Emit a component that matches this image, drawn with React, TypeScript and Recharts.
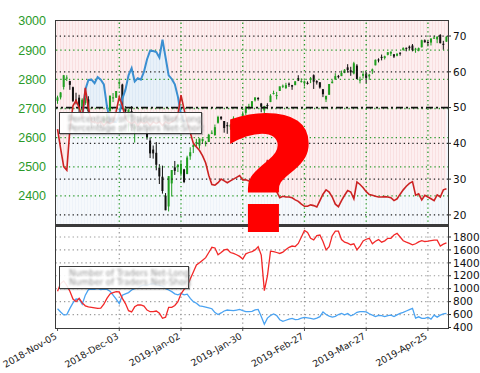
import React from "react";
import { ComposedChart, Bar, Line, Area, XAxis, YAxis, ReferenceLine, ReferenceArea } from "recharts";

// x-axis ticks (every 20 sessions)
const tickIdx = [0, 20, 40, 60, 80, 100, 120];
const tickLabels = ["2018-Nov-05", "2018-Dec-03", "2019-Jan-02", "2019-Jan-30", "2019-Feb-27", "2019-Mar-27", "2019-Apr-25"];

const priceTicks = [2400, 2500, 2600, 2700, 2800, 2900, 3000];
const pctTicks = [20, 30, 40, 50, 60, 70];
const countTicks = [400, 600, 800, 1000, 1200, 1400, 1600, 1800];

const open = [
  2726, 2738, 2774, 2806, 2794, 2773, 2730, 2737, 2694, 2718,
  2731, 2654, 2657, 2649, 2645, 2650, 2663, 2692, 2737, 2737,
  2790, 2782, 2700, 2663, 2691, 2630, 2664, 2658, 2658, 2629,
  2590, 2559, 2548, 2497, 2466, 2401, 2364, 2443, 2498, 2499,
  2477, 2491, 2475, 2536, 2568, 2580, 2573, 2588, 2580, 2585,
  2614, 2609, 2651, 2671, 2657, 2643, 2638, 2657, 2644, 2644,
  2654, 2685, 2702, 2706, 2728, 2736, 2717, 2693, 2712, 2722,
  2750, 2743, 2760, 2776, 2770, 2785, 2780, 2780, 2804, 2792,
  2787, 2788, 2798, 2814, 2794, 2790, 2766, 2731, 2747, 2787,
  2799, 2811, 2811, 2822, 2841, 2831, 2820, 2847, 2797, 2812,
  2820, 2810, 2828, 2848, 2868, 2877, 2873, 2884, 2888, 2886,
  2881, 2891, 2901, 2908, 2912, 2916, 2904, 2898, 2910, 2934,
  2928, 2926, 2940, 2937, 2952, 2922, 2929,
];
const high = [
  2744, 2756, 2815, 2814, 2795, 2775, 2754, 2747, 2735, 2746,
  2742, 2670, 2670, 2655, 2653, 2675, 2685, 2744, 2753, 2760,
  2800, 2785, 2708, 2697, 2708, 2647, 2674, 2685, 2670, 2635,
  2601, 2573, 2585, 2509, 2504, 2410, 2468, 2489, 2520, 2509,
  2520, 2493, 2538, 2567, 2579, 2596, 2597, 2597, 2589, 2613,
  2625, 2645, 2675, 2674, 2657, 2653, 2647, 2673, 2644, 2650,
  2690, 2708, 2716, 2725, 2738, 2739, 2719, 2709, 2718, 2749,
  2761, 2757, 2775, 2782, 2788, 2789, 2781, 2794, 2814, 2803,
  2796, 2793, 2808, 2817, 2797, 2790, 2767, 2744, 2784, 2798,
  2821, 2815, 2830, 2835, 2852, 2843, 2860, 2852, 2809, 2829,
  2825, 2819, 2837, 2868, 2872, 2885, 2881, 2893, 2895, 2886,
  2889, 2893, 2910, 2909, 2916, 2921, 2908, 2909, 2936, 2937,
  2933, 2940, 2950, 2948, 2955, 2932, 2948,
];
const low = [
  2716, 2731, 2765, 2794, 2764, 2722, 2714, 2685, 2670, 2712,
  2681, 2632, 2649, 2640, 2631, 2649, 2655, 2684, 2722, 2736,
  2774, 2697, 2680, 2621, 2623, 2583, 2621, 2650, 2637, 2593,
  2530, 2528, 2488, 2441, 2408, 2351, 2347, 2398, 2472, 2482,
  2467, 2444, 2475, 2524, 2547, 2569, 2562, 2581, 2570, 2585,
  2612, 2606, 2648, 2660, 2617, 2613, 2627, 2657, 2624, 2631,
  2648, 2678, 2696, 2701, 2724, 2727, 2687, 2682, 2703, 2722,
  2748, 2731, 2760, 2770, 2767, 2774, 2764, 2780, 2794, 2789,
  2775, 2782, 2787, 2767, 2782, 2768, 2739, 2722, 2747, 2786,
  2799, 2803, 2811, 2821, 2823, 2812, 2817, 2800, 2786, 2803,
  2787, 2798, 2818, 2848, 2858, 2865, 2868, 2882, 2880, 2873,
  2879, 2881, 2898, 2896, 2900, 2896, 2891, 2896, 2909, 2926,
  2913, 2916, 2939, 2924, 2923, 2901, 2929,
];
const close = [
  2738, 2755, 2814, 2806, 2781, 2726, 2722, 2702, 2730, 2736,
  2690, 2641, 2649, 2645, 2633, 2674, 2682, 2744, 2738, 2760,
  2790, 2700, 2690, 2696, 2633, 2638, 2636, 2651, 2650, 2600,
  2546, 2546, 2507, 2467, 2417, 2351, 2468, 2489, 2486, 2507,
  2510, 2448, 2532, 2550, 2574, 2585, 2597, 2596, 2583, 2610,
  2617, 2636, 2671, 2665, 2633, 2639, 2642, 2665, 2644, 2641,
  2681, 2704, 2707, 2725, 2738, 2732, 2706, 2708, 2709, 2744,
  2753, 2746, 2776, 2778, 2780, 2784, 2775, 2793, 2796, 2794,
  2793, 2784, 2804, 2792, 2789, 2772, 2749, 2743, 2784, 2792,
  2811, 2808, 2822, 2833, 2832, 2824, 2855, 2801, 2799, 2818,
  2805, 2816, 2834, 2867, 2867, 2873, 2879, 2893, 2895, 2878,
  2888, 2888, 2907, 2905, 2907, 2900, 2905, 2907, 2934, 2927,
  2926, 2940, 2943, 2946, 2924, 2918, 2946,
];

// percentage of traders net-short / net-long (right axis, top panel)
const pctShort = [
  44, 38.5, 33.5, 32.5, 44, 50.5, 52, 50, 47, 55.5,
  50, 46, 46, 45.5, 46, 45, 46, 45.5, 46, 49,
  53, 50.5, 47, 46, 45.5, 46, 45, 46, 45.5, 46,
  45, 46, 45.5, 46, 45, 46, 45.5, 46, 46.5, 48,
  53.5, 49.5, 46, 43, 40, 39, 38, 36.5, 34.5, 31,
  28.5, 28.3, 29, 30, 29.5, 29, 29.5, 30, 30.5, 31,
  29.8, 29.8, 29.5, 29.2, 30, 30.6, 30.8, 31, 35.4, 30,
  27.8, 26.5, 24.8, 25.2, 25, 25, 24.8, 24.2, 23.8, 23,
  22.4, 22.4, 22.8, 22.6, 22.2, 24, 25.8, 27, 26.4, 25,
  23, 22.3, 24, 25.5, 26.8, 26.4, 24.5, 29.2, 28.5, 27.6,
  26.5, 25.7, 25.5, 25.2, 25, 25, 25.1, 25, 24.8, 24,
  24.5, 25.8, 27, 28, 28.8, 29.3, 25.5, 25.9, 24.2, 25.5,
  25, 24.5, 24, 25.6, 25, 27, 27.3,
];
const pctLong = [
  null, null, null, null, null, null, null, null, 47, 55,
  57.7, 57.8, 56.8, 58.5, 57.8, 56.5, 50.5, 46, 46, 46,
  48, 52.5, 55, 59, 61, 57.3, 58.2, 57.8, 60, 63.5,
  65.9, 65.8, 65.5, 64, 69, 64, 59, 58, 56.5, 53,
  48, 46, null, null, null, null, null, null, null, null,
  null, null, null, null, null, null, null, null, null, null,
  null, null, null, null, null, null, null, null, null, null,
  null, null, null, null, null, null, null, null, null, null,
  null, null, null, null, null, null, null, null, null, null,
  null, null, null, null, null, null, null, null, null, null,
  null, null, null, null, null, null, null, null, null, null,
  null, null, null, null, null, null, null, null, null, null,
  null, null, null, null, null, null, null,
];

// number of traders (bottom panel)
const numLong = [
  690, 640, 595, 600, 695, 780, 840, 835, 760, 900,
  985, 995, 990, 1000, 985, 995, 990, 960, 900, 840,
  770, 900, 920, 940, 980, 1000, 1010, 1040, 1060, 1050,
  1070, 1080, 1060, 1050, 1040, 1000, 980, 955, 920, 905,
  928, 905, 915, 850, 800, 775, 735, 725, 715, 705,
  690, 630, 600, 625, 655, 670, 665, 660, 670, 680,
  660, 645, 645, 650, 671, 680, 570, 450, 545, 585,
  610, 585, 520, 495, 512, 530, 540, 522, 525, 545,
  556, 550, 540, 530, 545, 567, 640, 600, 575, 560,
  572, 600, 617, 595, 615, 580, 600, 635, 645, 645,
  640, 612, 590, 570, 588, 585, 568, 583, 590, 570,
  595, 620, 635, 655, 675, 695, 545, 565, 540, 540,
  560, 530, 590, 560, 590, 610, 620,
];
const numShort = [
  960, 1080, 1120, 1050, 960, 840, 800, 850, 780, 735,
  720, 712, 705, 695, 700, 760, 850, 918, 940, 955,
  950, 850, 770, 660, 640, 720, 748, 748, 732, 670,
  644, 644, 655, 620, 542, 560, 712, 712, 740, 800,
  920, 990, 1040, 1150, 1260, 1367, 1400, 1440, 1480, 1560,
  1640, 1630, 1525, 1560, 1600, 1610, 1560, 1545, 1525, 1500,
  1460, 1540, 1560, 1575, 1600, 1650, 1520, 970, 1200, 1580,
  1575, 1560, 1545, 1565, 1605, 1640, 1660, 1652, 1700, 1800,
  1900, 1870, 1780, 1756, 1820, 1830, 1730, 1600, 1650, 1820,
  1890, 1890, 1760, 1720, 1705, 1680, 1695, 1600, 1660, 1740,
  1765, 1780, 1695, 1735, 1760, 1720, 1740, 1780, 1780, 1830,
  1855, 1800, 1742, 1720, 1700, 1678, 1695, 1725, 1743, 1730,
  1735, 1743, 1750, 1752, 1660, 1690, 1710,
];

const rows = close.map((c, i) => ({
  i,
  open: open[i],
  high: high[i],
  low: low[i],
  close: c,
  pctShort: pctShort[i],
  pctLong: pctLong[i],
  numLong: numLong[i],
  numShort: numShort[i],
}));

const X_DOMAIN: [number, number] = [-0.5, 126.5];
const PRICE_DOMAIN: [number, number] = [2297, 3000];
const PCT_DOMAIN: [number, number] = [16.9, 74.2];
const COUNT_DOMAIN: [number, number] = [392, 1970];

const GREEN = "#2a9a2a";
const FONT = "DejaVu Sans, sans-serif";

const Candle = (props: any) => {
  const { x, y, width, height, payload } = props;
  if (!payload || y == null || height == null) return null;
  const top = Math.min(y, y + height);
  const bot = Math.max(y, y + height);
  const span = payload.high - payload.low || 1;
  const k = (bot - top) / span;
  const yo = top + (payload.high - payload.open) * k;
  const yc = top + (payload.high - payload.close) * k;
  const up = payload.close >= payload.open;
  const color = up ? "#1f9e1f" : "#111111";
  const cx = x + width / 2;
  return (
    <g>
      <line x1={cx} x2={cx} y1={top} y2={bot} stroke={color} strokeWidth={1} />
      <rect x={cx - 1} y={Math.min(yo, yc)} width={2} height={Math.max(1, Math.abs(yc - yo))} fill={color} />
    </g>
  );
};

const DateTick = ({ x, y, payload }: any) => {
  const label = tickLabels[tickIdx.indexOf(payload.value)] ?? "";
  return (
    <text
      x={x}
      y={y + 5}
      transform={`rotate(-30, ${x}, ${y + 5})`}
      textAnchor="end"
      fontSize={9.3}
      fill="#222"
      fontFamily={FONT}
    >
      {label}
    </text>
  );
};

const blurText: React.CSSProperties = {
  filter: "blur(1.1px)",
  color: "#999",
  fontSize: 8.5,
  fontFamily: FONT,
  whiteSpace: "nowrap",
  lineHeight: "10px",
};

const legendBox: React.CSSProperties = {
  position: "absolute",
  background: "rgba(255,255,255,0.9)",
  border: "1.5px solid #3c3c3c",
  boxShadow: "1px 1px 1px rgba(0,0,0,0.25)",
  boxSizing: "border-box",
  padding: "1px 3px",
};

export default function App() {
  return (
    <div style={{ position: "absolute", left: 0, top: 0, width: 480, height: 373, background: "#fff", overflow: "hidden" }}>
      <svg width={0} height={0} style={{ position: "absolute" }}>
        <defs>
          <pattern id="pinkStripe" patternUnits="userSpaceOnUse" width={3} height={10}>
            <rect width={3} height={10} fill="#fdeff0" />
            <rect width={1} height={10} fill="#f9e0e1" />
          </pattern>
          <pattern id="paleStripe" patternUnits="userSpaceOnUse" width={3} height={10}>
            <rect width={3} height={10} fill="#f6f9fc" />
            <rect width={1} height={10} fill="#eef3f9" />
          </pattern>
          <pattern id="blueStripe" patternUnits="userSpaceOnUse" width={3} height={10}>
            <rect width={3} height={10} fill="#e8f1f9" />
            <rect width={1} height={10} fill="#dde9f5" />
          </pattern>
        </defs>
      </svg>

      {/* top panel: price candles + sentiment percentages */}
      <div style={{ position: "absolute", left: 0, top: 0 }}>
        <ComposedChart width={480} height={226} data={rows} margin={{ top: 21, right: 0, bottom: 0, left: 0 }}>
          <XAxis dataKey="i" type="number" domain={X_DOMAIN} ticks={tickIdx} allowDataOverflow hide />
          <YAxis
            yAxisId="price"
            orientation="left"
            width={56}
            domain={PRICE_DOMAIN}
            ticks={priceTicks}
            interval={0}
            allowDataOverflow
            axisLine={false}
            tickLine={false}
            tickMargin={4}
            tick={{ fill: GREEN, fontSize: 12.5, fontFamily: "Liberation Sans, sans-serif" }}
          />
          <YAxis
            yAxisId="pct"
            orientation="right"
            width={32}
            domain={PCT_DOMAIN}
            ticks={pctTicks}
            interval={0}
            allowDataOverflow
            axisLine={false}
            tickLine={{ stroke: "#222" }}
            tickSize={3}
            tickMargin={2}
            tick={{ fill: "#111", fontSize: 10.5, fontFamily: FONT }}
          />
          <ReferenceArea yAxisId="pct" y1={50} y2={PCT_DOMAIN[1]} fill="url(#pinkStripe)" fillOpacity={1} stroke="none" ifOverflow="hidden" />
          <ReferenceArea yAxisId="pct" y1={PCT_DOMAIN[0]} y2={50} fill="url(#paleStripe)" fillOpacity={1} stroke="none" ifOverflow="hidden" />
          <Area yAxisId="pct" dataKey="pctLong" baseValue={50} stroke="none" fill="url(#blueStripe)" fillOpacity={1} isAnimationActive={false} />
          <Area yAxisId="pct" dataKey="pctShort" baseValue={50} stroke="none" fill="url(#pinkStripe)" fillOpacity={1} isAnimationActive={false} />
          {pctTicks.filter((t) => t !== 50).map((t) => (
            <ReferenceLine key={`p${t}`} yAxisId="pct" y={t} stroke="#222" strokeWidth={1.3} strokeDasharray="1.3 3" />
          ))}
          {priceTicks.filter((t) => t !== 3000).map((t) => (
            <ReferenceLine key={`g${t}`} yAxisId="price" y={t} stroke={GREEN} strokeWidth={1.3} strokeDasharray="1.3 3" />
          ))}
          {tickIdx.slice(1).map((t) => (
            <ReferenceLine key={`v${t}`} yAxisId="price" x={t} stroke={GREEN} strokeWidth={1.3} strokeDasharray="1.3 3" />
          ))}
          <Bar yAxisId="price" dataKey={(d: any) => [d.low, d.high]} barSize={3} shape={<Candle />} isAnimationActive={false} />
          <ReferenceLine yAxisId="pct" y={50} stroke="#111" strokeWidth={1.6} strokeDasharray="7 3 2 3" />
          <Line yAxisId="pct" dataKey="pctLong" stroke="#3b8fd1" strokeWidth={2} dot={false} isAnimationActive={false} />
          <Line yAxisId="pct" dataKey="pctShort" stroke="#cc2222" strokeWidth={1.6} dot={false} isAnimationActive={false} />
        </ComposedChart>
      </div>

      {/* bottom panel: number of traders */}
      <div style={{ position: "absolute", left: 0, top: 226 }}>
        <ComposedChart width={480} height={147} data={rows} margin={{ top: 0, right: 0, bottom: 0, left: 0 }}>
          <XAxis
            dataKey="i"
            type="number"
            domain={X_DOMAIN}
            ticks={tickIdx}
            allowDataOverflow
            height={45}
            axisLine={false}
            tickLine={{ stroke: "#555" }}
            tickSize={3}
            tick={<DateTick />}
            interval={0}
          />
          <YAxis yAxisId="left" orientation="left" width={56} domain={COUNT_DOMAIN} tick={false} axisLine={false} tickLine={false} />
          <YAxis
            yAxisId="n"
            orientation="right"
            width={32}
            domain={COUNT_DOMAIN}
            ticks={countTicks}
            interval={0}
            allowDataOverflow
            axisLine={false}
            tickLine={{ stroke: "#222" }}
            tickSize={3}
            tickMargin={2}
            tick={{ fill: "#111", fontSize: 10.5, fontFamily: FONT }}
          />
          {countTicks.filter((t) => t > 400).map((t) => (
            <ReferenceLine key={`c${t}`} yAxisId="n" y={t} stroke="#9a9a9a" strokeWidth={1.2} strokeDasharray="1.3 3" />
          ))}
          {tickIdx.slice(1).map((t) => (
            <ReferenceLine key={`cv${t}`} yAxisId="n" x={t} stroke="#9a9a9a" strokeWidth={1.2} strokeDasharray="1.3 3" />
          ))}
          <Line yAxisId="n" dataKey="numLong" stroke="#4aa3f2" strokeWidth={1.3} dot={false} isAnimationActive={false} />
          <Line yAxisId="n" dataKey="numShort" stroke="#f22828" strokeWidth={1.3} dot={false} isAnimationActive={false} />
        </ComposedChart>
      </div>

      {/* panel frames */}
      <div style={{ position: "absolute", left: 55, top: 20, width: 394, height: 207, border: "1.5px solid #3a3a3a", borderBottomWidth: 3, boxSizing: "border-box", pointerEvents: "none" }} />
      <div style={{ position: "absolute", left: 55, top: 225, width: 394, height: 104, border: "1.5px solid #3a3a3a", borderTop: "none", boxSizing: "border-box", pointerEvents: "none" }} />

      {/* legends */}
      <div style={{ ...legendBox, left: 59, top: 112, width: 143, height: 22 }}>
        <div style={{ display: "flex", alignItems: "center", height: 9 }}>
          <span style={{ display: "inline-block", width: 14, height: 7, background: "#cfe2f6", marginRight: 5 }} />
          <span style={blurText}>Percentage of Traders Net-Long</span>
        </div>
        <div style={{ display: "flex", alignItems: "center", height: 9 }}>
          <span style={{ display: "inline-block", width: 14, height: 7, background: "#f9cccc", marginRight: 5 }} />
          <span style={blurText}>Percentage of Traders Net-Short</span>
        </div>
      </div>
      <div style={{ ...legendBox, left: 59, top: 266, width: 130, height: 23 }}>
        <div style={{ display: "flex", alignItems: "center", height: 9.5 }}>
          <span style={{ display: "inline-block", width: 13, height: 1.5, background: "#4aa3f2", marginRight: 6 }} />
          <span style={blurText}>Number of Traders Net-Long</span>
        </div>
        <div style={{ display: "flex", alignItems: "center", height: 9.5 }}>
          <span style={{ display: "inline-block", width: 13, height: 1.5, background: "#f22828", marginRight: 6 }} />
          <span style={blurText}>Number of Traders Net-Short</span>
        </div>
      </div>

      {/* big question mark overlay */}
      <svg width={480} height={373} style={{ position: "absolute", left: 0, top: 0, pointerEvents: "none" }}>
        <text
          x={0}
          y={0}
          transform="translate(269, 232) scale(1.1, 1)"
          textAnchor="middle"
          fontSize={160}
          fontWeight="bold"
          fill="#ff0000"
          fontFamily={FONT}
        >
          ?
        </text>
      </svg>
    </div>
  );
}
